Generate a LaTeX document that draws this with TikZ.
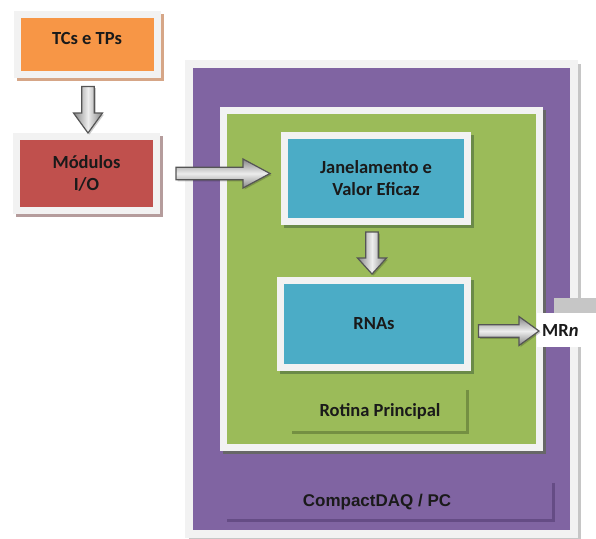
\documentclass[tikz,border=0pt]{standalone}
\usepackage{fontspec}
\setmainfont{Carlito}
\newfontfamily\arialfont{Liberation Sans}
\usetikzlibrary{calc,shadows}
\definecolor{frame}  {HTML}{F2F2F2}
\definecolor{tcs}    {HTML}{F79646}
\definecolor{tcsdrop}{HTML}{D6A687}
\definecolor{mod}    {HTML}{C0504D}
\definecolor{moddrop}{HTML}{B59C9C}
\definecolor{daq}    {HTML}{8064A2}
\definecolor{daqdrop}{HTML}{C6C6C6}
\definecolor{daqline}{HTML}{654C85}
\definecolor{rot}    {HTML}{9BBB59}
\definecolor{rotdrop}{HTML}{676767}
\definecolor{rotline}{HTML}{748F42}
\definecolor{proc}   {HTML}{4BACC6}
\definecolor{procdrop}{HTML}{6B8A48}
\definecolor{ink}    {HTML}{1A1A1A}
\definecolor{argray} {HTML}{858585}
\definecolor{arlight}{HTML}{EDEDED}
\definecolor{aredge} {HTML}{555555}
\tikzset{arhead/.store in=\arhead,arhead=20pt,
  arshaft/.store in=\arshaft,arshaft=6.3pt,
  arwing/.store in=\arwing,arwing=14.5pt,
  ardir/.store in=\ardir,ardir=arv}
\newcommand\fatar[3][]{%
  \begin{scope}[#1]
  \path #2 coordinate (fa-s) #3 coordinate (fa-e);
  \path ($(fa-e)!\arhead!(fa-s)$) coordinate (fa-m);
  \filldraw[ar,\ardir] ($(fa-s)!\arshaft!90:(fa-e)$) -- ($(fa-m)!\arshaft!-90:(fa-s)$)
    -- ($(fa-m)!\arwing!-90:(fa-s)$) -- (fa-e) -- ($(fa-m)!\arwing!90:(fa-s)$)
    -- ($(fa-m)!\arshaft!90:(fa-s)$) -- ($(fa-s)!\arshaft!-90:(fa-e)$) -- cycle;
  \end{scope}}

\begin{document}
\begin{tikzpicture}[x=1pt,y=-1pt,
  lbl/.style={text=ink,font=\fontsize{18.5}{22}\selectfont\bfseries,align=center},
  box/.style={lbl,draw=frame,line width=7pt,inner sep=0pt,
              drop shadow={shadow xshift=3pt,shadow yshift=-3pt,fill=#1,draw=#1,
                           line width=7pt,opacity=1}},
  tag/.style={lbl,inner sep=0pt},
  ar/.style={draw=aredge,line width=1.2pt,line join=miter,
             drop shadow={shadow xshift=1.5pt,shadow yshift=-1.5pt,fill=black,opacity=.2}},
  arv/.style={left color=argray,right color=argray,middle color=arlight},
  arh/.style={top color=argray,bottom color=argray,middle color=arlight}]
  \useasboundingbox (0,0) rectangle (596,538);

  \node[box=tcsdrop,fill=tcs,minimum width=140,minimum height=60,
        text height=8pt,text depth=8pt] (tcs) at (87,44) {TCs e TPs};
  \node[box=moddrop,fill=mod,minimum width=140,minimum height=74] (mod) at (86.5,173.5)
    {Módulos\\I/O};

  \node[box=daqdrop,fill=daq,line width=8pt,minimum width=385,minimum height=470]
    (daq) at (381.5,299) {};
  \node[box=rotdrop,fill=rot,minimum width=316,minimum height=337] (rot) at (381.5,279) {};
  \node[box=procdrop,fill=proc,minimum width=183,minimum height=86] (jan) at (376,178.5)
    {Janelamento e\\Valor Eficaz};
  \node[box=procdrop,fill=proc,minimum width=187,minimum height=87] (rna) at (374,324)
    {RNAs};

  \node[tag,minimum width=175,minimum height=42] (rotlbl) at (380,411) {Rotina Principal};
  \draw[rotline,line width=3pt] (rotlbl.north east) -- (rotlbl.south east)
    -- (rotlbl.south west);
  \node[minimum width=326,minimum height=37,inner sep=0pt] (daqbox) at (390,501.5) {};
  \draw[daqline,line width=3pt] (daqbox.north east) -- (daqbox.south east)
    -- (daqbox.south west);
  \node[tag,font=\arialfont\fontsize{17}{20}\selectfont\bfseries] (daqlbl) at (377,502)
    {CompactDAQ / PC};

  \node[tag,fill=white,anchor=west,inner xsep=5pt,minimum height=34,
        text width=56pt,align=left,
        drop shadow={shadow xshift=17pt,shadow yshift=15pt,fill=gray!45,opacity=1}]
    (mrn) at (537,330) {MR\textit{n}};

  \fatar{($(tcs.south)+(1,9)$)}{($(mod.north)+(1.5,0)$)}
  \fatar[ardir=arh,arhead=27pt]{($(mod.east)+(16,0)$)}{($(jan.west |- mod.east)+(-11,0)$)}
  \fatar[arhead=16pt]{($(jan.south)+(-4,7)$)}{($(rna.north)+(-2,-3)$)}
  \fatar[ardir=arh]{($(rna.east)+(7.5,7)$)}{($(mrn.west)+(2,1)$)}
\end{tikzpicture}
\end{document}
